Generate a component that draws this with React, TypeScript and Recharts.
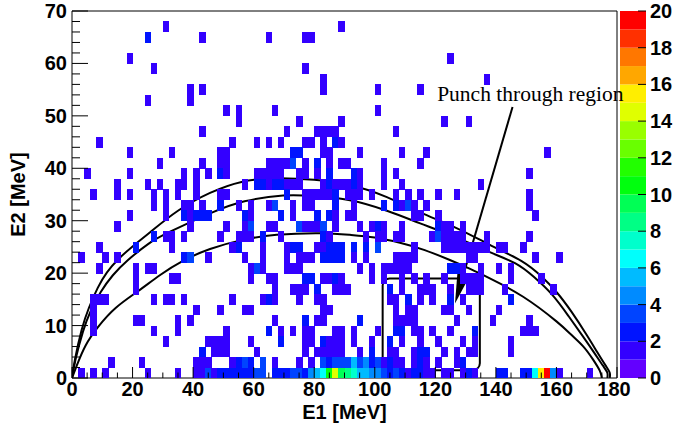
import { Bar, BarChart, ComposedChart, Label, Line, ReferenceArea, ReferenceDot, ReferenceLine, Scatter, XAxis, YAxis } from "recharts";

const W = 674;
const H = 425;
const PLOT = { left: 72, top: 11, right: 617, bottom: 378 };
const BIN = 2; // MeV, both axes
const CELL_W = (PLOT.right - PLOT.left) / 90;
const CELL_H = (PLOT.bottom - PLOT.top) / 35;

const SANS = "'Liberation Sans', Arial, sans-serif";
const SERIF = "'Liberation Serif', 'Times New Roman', serif";

// [E1 low edge, E2 low edge, counts]
const CELLS: [number, number, number][] = [
  [30,66,1],[88,66,1],
  [24,64,2],[42,64,1],[64,64,1],[76,64,1],[78,64,1],
  [18,60,1],[124,60,1],
  [26,58,1],[76,58,1],
  [82,56,1],[136,56,1],
  [38,54,1],[42,54,1],[82,54,1],[100,54,1],[114,54,1],
  [24,52,1],[38,52,1],
  [50,50,1],[54,50,1],[66,50,1],[100,50,1],
  [54,48,1],[74,48,1],[88,48,1],[122,48,1],[130,48,1],
  [42,46,1],[70,46,1],[80,46,1],[82,46,1],[84,46,1],[86,46,1],[106,46,1],
  [8,44,1],[52,44,1],[60,44,1],[64,44,1],[68,44,1],[76,44,1],[78,44,1],[82,44,1],[86,44,2],[88,44,1],
  [18,42,1],[32,42,1],[48,42,1],[50,42,1],[72,42,2],[74,42,2],[82,42,1],[84,42,1],[94,42,1],[108,42,1],[116,42,1],[156,42,1],
  [28,40,1],[42,40,1],[48,40,1],[50,40,1],[64,40,1],[66,40,1],[68,40,1],[70,40,1],[72,40,3],[76,40,1],[80,40,2],[84,40,1],[88,40,1],[90,40,1],[102,40,1],[114,40,1],
  [4,38,1],[18,38,1],[36,38,1],[40,38,1],[44,38,1],[48,38,2],[50,38,1],[60,38,1],[62,38,1],[64,38,1],[66,38,1],[68,38,1],[74,38,1],[76,38,1],[80,38,1],[84,38,2],[92,38,2],[94,38,1],[102,38,1],[106,38,1],[150,38,1],
  [14,36,1],[24,36,1],[28,36,1],[34,36,1],[36,36,1],[40,36,1],[56,36,1],[60,36,2],[62,36,2],[64,36,1],[66,36,2],[68,36,2],[70,36,1],[72,36,1],[74,36,1],[82,36,1],[84,36,2],[86,36,1],[88,36,1],[90,36,1],[92,36,2],[94,36,1],[102,36,1],[108,36,1],[134,36,1],
  [6,34,1],[14,34,1],[18,34,1],[26,34,1],[30,34,1],[34,34,1],[40,34,1],[48,34,1],[50,34,1],[70,34,2],[76,34,1],[78,34,1],[80,34,1],[82,34,1],[84,34,1],[86,34,2],[90,34,1],[92,34,1],[94,34,1],[98,34,1],[106,34,1],[110,34,1],[114,34,1],[120,34,1],[126,34,1],[150,34,1],
  [26,32,1],[30,32,1],[36,32,1],[38,32,1],[42,32,1],[48,32,2],[54,32,1],[58,32,1],[64,32,1],[66,32,3],[72,32,1],[76,32,1],[78,32,1],[86,32,2],[92,32,1],[102,32,2],[106,32,2],[108,32,1],[110,32,3],[112,32,1],[116,32,1],[150,32,1],
  [18,30,1],[30,30,1],[36,30,2],[38,30,1],[40,30,2],[42,30,2],[44,30,2],[56,30,2],[58,30,1],[68,30,2],[72,30,1],[80,30,2],[84,30,2],[86,30,1],[90,30,1],[92,30,1],[112,30,1],[114,30,1],[120,30,1],[152,30,1],
  [14,28,1],[38,28,1],[50,28,1],[56,28,1],[58,28,3],[64,28,1],[66,28,1],[74,28,3],[76,28,1],[78,28,1],[80,28,1],[82,28,3],[86,28,1],[94,28,1],[98,28,1],[100,28,2],[102,28,1],[108,28,1],[120,28,2],[122,28,1],[124,28,1],[128,28,1],
  [26,26,2],[30,26,1],[32,26,1],[36,26,1],[48,26,1],[54,26,1],[56,26,1],[58,26,1],[62,26,2],[68,26,1],[82,26,2],[84,26,1],[96,26,1],[100,26,1],[102,26,1],[106,26,1],[108,26,1],[118,26,1],[120,26,3],[122,26,1],[124,26,1],[126,26,1],[128,26,1],[136,26,1],[150,26,1],
  [8,24,1],[20,24,2],[32,24,1],[52,24,1],[54,24,2],[62,24,1],[70,24,1],[72,24,2],[74,24,2],[80,24,1],[82,24,1],[84,24,2],[86,24,2],[88,24,2],[92,24,2],[96,24,2],[100,24,3],[112,24,1],[122,24,1],[124,24,1],[126,24,1],[128,24,1],[130,24,1],[132,24,1],[134,24,1],[136,24,1],[140,24,1],[142,24,1],[148,24,1],
  [2,22,1],[10,22,1],[14,22,1],[36,22,2],[38,22,3],[44,22,1],[56,22,1],[62,22,1],[70,22,1],[74,22,1],[76,22,1],[78,22,1],[82,22,2],[84,22,2],[86,22,2],[88,22,2],[92,22,1],[96,22,1],[106,22,1],[108,22,1],[110,22,1],[112,22,1],[130,22,1],[132,22,1],[152,22,1],[160,22,1],
  [8,20,1],[20,20,1],[24,20,1],[26,20,1],[58,20,1],[60,20,3],[62,20,1],[70,20,1],[72,20,1],[74,20,1],[94,20,1],[98,20,1],[102,20,1],[104,20,1],[106,20,1],[108,20,1],[110,20,1],[124,20,2],[126,20,2],[128,20,1],[134,20,1],[140,20,1],[144,20,1],
  [20,18,1],[32,18,1],[34,18,1],[58,18,1],[64,18,1],[66,18,1],[76,18,2],[78,18,2],[82,18,1],[84,18,1],[86,18,2],[88,18,1],[98,18,1],[102,18,1],[108,18,1],[112,18,1],[116,18,1],[122,18,1],[128,18,1],[130,18,1],[132,18,1],[134,18,1],[144,18,1],[154,18,1],
  [20,16,1],[66,16,1],[72,16,1],[74,16,1],[76,16,1],[80,16,2],[86,16,1],[88,16,1],[90,16,1],[104,16,2],[108,16,1],[114,16,1],[116,16,1],[118,16,1],[124,16,1],[130,16,1],[132,16,1],[134,16,1],[142,16,1],[158,16,1],
  [6,14,1],[8,14,1],[10,14,1],[26,14,1],[30,14,1],[32,14,1],[36,14,1],[52,14,1],[62,14,1],[64,14,2],[66,14,1],[74,14,1],[80,14,1],[82,14,1],[104,14,1],[106,14,1],[110,14,2],[114,14,1],[118,14,1],[124,14,2],[128,14,1],[144,14,2],
  [6,12,1],[40,12,1],[48,12,1],[56,12,1],[58,12,1],[82,12,1],[84,12,1],[106,12,1],[110,12,1],[112,12,1],[122,12,1],[124,12,1],[130,12,1],[140,12,1],
  [6,10,1],[20,10,1],[22,10,1],[34,10,1],[38,10,1],[66,10,1],[76,10,2],[80,10,1],[82,10,1],[94,10,2],[106,10,1],[108,10,1],[110,10,1],[112,10,1],[126,10,1],[138,10,1],[150,10,1],
  [6,8,1],[26,8,1],[34,8,1],[50,8,1],[64,8,2],[68,8,1],[72,8,1],[76,8,1],[78,8,1],[86,8,1],[88,8,1],[92,8,1],[100,8,1],[106,8,2],[108,8,2],[112,8,1],[114,8,1],[118,8,1],[124,8,1],[132,8,2],[148,8,1],[150,8,1],[152,8,1],
  [30,6,1],[44,6,1],[46,6,1],[48,6,1],[50,6,1],[58,6,1],[68,6,2],[76,6,1],[78,6,1],[82,6,2],[84,6,1],[86,6,1],[88,6,1],[92,6,1],[98,6,1],[104,6,2],[108,6,1],[114,6,1],[120,6,1],[128,6,1],[132,6,1],[144,6,1],
  [42,4,2],[46,4,1],[48,4,1],[50,4,1],[60,4,1],[76,4,1],[80,4,1],[82,4,1],[84,4,1],[86,4,1],[88,4,1],[94,4,1],[98,4,2],[104,4,1],[106,4,1],[112,4,1],[114,4,2],[116,4,2],[122,4,1],[126,4,1],[130,4,1],[132,4,1],[144,4,1],
  [12,2,1],[22,2,1],[40,2,1],[42,2,1],[44,2,1],[52,2,1],[54,2,2],[56,2,3],[58,2,2],[62,2,3],[66,2,1],[74,2,1],[78,2,1],[82,2,3],[84,2,2],[86,2,3],[88,2,3],[90,2,3],[92,2,5],[94,2,3],[96,2,4],[98,2,2],[100,2,3],[102,2,1],[104,2,2],[106,2,1],[108,2,1],[112,2,1],[114,2,2],[116,2,1],[120,2,1],[126,2,1],[128,2,2],
  [2,0,1],[6,0,1],[10,0,1],[24,0,1],[34,0,1],[40,0,1],[42,0,1],[44,0,3],[46,0,1],[48,0,2],[50,0,2],[52,0,2],[54,0,2],[56,0,2],[58,0,2],[60,0,3],[62,0,3],[66,0,2],[68,0,2],[70,0,2],[72,0,3],[74,0,3],[76,0,2],[78,0,4],[80,0,5],[82,0,6],[84,0,10],[86,0,14],[88,0,9],[90,0,8],[92,0,7],[94,0,5],[96,0,5],[98,0,4],[100,0,4],[102,0,3],[104,0,2],[106,0,3],[108,0,2],[110,0,1],[112,0,2],[114,0,2],[116,0,1],[118,0,1],[122,0,1],[124,0,1],[128,0,1],[130,0,2],[132,0,1],[140,0,2],[142,0,2],[148,0,2],[150,0,2],[152,0,6],[154,0,15],[156,0,20],[158,0,4],[160,0,1],[170,0,1],
];

// kinematic limit curves [E1, E2]
const CURVE_OUTER = [[0,0],[1.0,3.6],[3.2,9.2],[5.6,13.4],[8.5,17.2],[11.5,20.1],[15.2,22.6],[20,25.1],[25.8,27.8],[35,31.9],[45.6,35.3],[56,37.4],[67.6,38.1],[80,37.8],[91.8,36.8],[104,34.5],[115,31.6],[127,28.6],[138,25.4],[148.5,22.3],[155,19.4],[160,16.4],[165,12.6],[170,8.2],[173.5,4.9],[176.2,2.4],[177.6,1.0],[177.6,0]];
const CURVE_MIDDLE = [[0,0],[1.2,3.6],[3.6,8.8],[6.2,12.8],[9.5,16.4],[13.5,19.6],[18.5,22.5],[25,25.5],[32.4,27.9],[45.6,31.4],[57,33.7],[69.7,34.8],[80,34.7],[91.8,33.9],[104,31.9],[115,29.5],[127,26.8],[138,24],[146.3,21.9],[152.5,19.3],[158.7,15.8],[164,11.8],[168.8,7.9],[172.5,4.8],[175.3,2.4],[176.8,1.0],[176.8,0]];
const CURVE_INNER = [[0,0],[1.6,2.4],[4.5,6.2],[8.7,9.8],[14.5,13.4],[21.9,16.6],[29,19.6],[36.5,22.3],[45.6,24.6],[56,26.3],[67.6,27.3],[81.9,27.6],[91.8,27.3],[100,26.8],[108.3,25.8],[116.5,24.4],[124.8,22.5],[131.5,20.8],[138,19],[149,15.5],[160,10.8],[165,8.2],[168.9,6],[172,3.6],[174.3,1.4],[175,0]];

const BOX = { e1: [102.6, 134.7], e2: [1.5, 19] };
const ARROW = [{ x: 145.5, y: 51.7 }, { x: 126.5, y: 14.2 }];
const NOTE = { e1: 120.6, e2: 52.8, text: "Punch through region" };

const X_TICKS = [0, 5, 10, 15, 20, 25, 30, 35, 40, 45, 50, 55, 60, 65, 70, 75, 80, 85, 90, 95, 100, 105, 110, 115, 120, 125, 130, 135, 140, 145, 150, 155, 160, 165, 170, 175, 180];
const Y_TICKS = [0, 2, 4, 6, 8, 10, 12, 14, 16, 18, 20, 22, 24, 26, 28, 30, 32, 34, 36, 38, 40, 42, 44, 46, 48, 50, 52, 54, 56, 58, 60, 62, 64, 66, 68, 70];
const Z_TICKS = [0, 2, 4, 6, 8, 10, 12, 14, 16, 18, 20];
const Z_BANDS = [0, 1, 2, 3, 4, 5, 6, 7, 8, 9, 10, 11, 12, 13, 14, 15, 16, 17, 18, 19];

// ROOT "pretty" palette: 50 HLS hues 280 -> 0, 20 contour levels
function hueToHex(h: number) {
  let r = 0, g = 0, b = 0;
  if (h >= 240) { r = (h - 240) / 60; b = 1; }
  else if (h >= 180) { g = (240 - h) / 60; b = 1; }
  else if (h >= 120) { g = 1; b = (h - 120) / 60; }
  else if (h >= 60) { r = (120 - h) / 60; g = 1; }
  else { r = 1; g = h / 60; }
  const c = (v: number) => Math.round(Math.min(1, Math.max(0, v)) * 255).toString(16).padStart(2, "0");
  return "#" + c(r) + c(g) + c(b);
}
function levelColor(n: number) {
  const k = Math.min(19, Math.max(0, Math.floor(n)));
  const idx = Math.floor(((k + 0.99) * 50) / 20);
  return hueToHex(280 - (idx + 1) * 5.6);
}

const cellData = CELLS.map(([e1, e2, n]) => ({ e1: e1 + BIN / 2, e2: e2 + BIN / 2, n }));
const toPts = (c: number[][]) => c.map(([e1, e2]) => ({ e1, e2 }));

const CellShape = (p: any) => (
  <rect
    x={p.cx - CELL_W / 2}
    y={p.cy - CELL_H / 2}
    width={CELL_W + 0.4}
    height={CELL_H + 0.4}
    fill={levelColor(p.payload.n)}
    shapeRendering="crispEdges"
  />
);

const XTick = ({ x, y, payload }: any) => {
  const major = payload.value % 20 === 0;
  return (
    <g>
      <line x1={x} x2={x} y1={y} y2={y - (major ? 11 : 5.5)} stroke="#000" />
      {major && (
        <text x={payload.value === 180 ? x - 3 : x} y={y + 18} textAnchor="middle" fontSize={20} fontWeight="bold" fontFamily={SANS} fill="#000">
          {payload.value}
        </text>
      )}
    </g>
  );
};

const YTick = ({ x, y, payload }: any) => {
  const major = payload.value % 10 === 0;
  return (
    <g>
      <line x1={x} x2={x + (major ? 16 : 8)} y1={y} y2={y} stroke="#000" />
      {major && (
        <text x={x - 5} y={y + 7} textAnchor="end" fontSize={20} fontWeight="bold" fontFamily={SANS} fill="#000">
          {payload.value}
        </text>
      )}
    </g>
  );
};

const ZTick = ({ x, y, payload }: any) => (
  <g>
    <line x1={x} x2={x - 8} y1={y} y2={y} stroke="#000" />
    <text x={x + 4} y={y + 7} textAnchor="start" fontSize={20} fontWeight="bold" fontFamily={SANS} fill="#000">
      {payload.value}
    </text>
  </g>
);

export default function App() {
  const zRow: Record<string, number | string> = { name: "z" };
  Z_BANDS.forEach((k) => (zRow["b" + k] = 1));

  return (
    <div style={{ position: "fixed", left: 0, top: 0, width: W, height: H, background: "#fff" }}>
      <div style={{ position: "absolute", left: 620, top: 0 }}>
        <BarChart width={54} height={H} data={[zRow]} margin={{ top: PLOT.top, right: 0, bottom: H - PLOT.bottom, left: 0 }} barCategoryGap={0} barGap={0}>
          <XAxis dataKey="name" hide />
          <YAxis
            orientation="right"
            type="number"
            domain={[0, 20]}
            ticks={Z_TICKS}
            width={28}
            tickSize={0}
            tickMargin={0}
            axisLine={false}
            tickLine={false}
            tick={<ZTick />}
            interval={0}
          />
          {Z_BANDS.map((k) => (
            <Bar key={k} dataKey={"b" + k} stackId="z" fill={levelColor(k)} isAnimationActive={false} />
          ))}
        </BarChart>
      </div>
      <div style={{ position: "absolute", left: 0, top: 0 }}>
        <ComposedChart width={W} height={H} margin={{ top: PLOT.top, right: W - PLOT.right, bottom: 0, left: 0 }}>
          <XAxis
            type="number"
            dataKey="e1"
            domain={[0, 180]}
            ticks={X_TICKS}
            interval={0}
            height={H - PLOT.bottom}
            tickSize={0}
            tickMargin={0}
            axisLine={false}
            tickLine={false}
            tick={<XTick />}
            allowDataOverflow
          >
            <Label value="E1 [MeV]" position="insideBottom" offset={6} style={{ fontSize: 20, fontWeight: "bold", fontFamily: SANS, fill: "#000" }} />
          </XAxis>
          <YAxis
            type="number"
            dataKey="e2"
            domain={[0, 70]}
            ticks={Y_TICKS}
            interval={0}
            width={PLOT.left}
            tickSize={0}
            tickMargin={0}
            axisLine={false}
            tickLine={false}
            tick={<YTick />}
            allowDataOverflow
          >
            <Label value="E2 [MeV]" angle={-90} position="insideLeft" offset={18} style={{ textAnchor: "middle", fontSize: 20, fontWeight: "bold", fontFamily: SANS, fill: "#000" }} />
          </YAxis>
          <Scatter data={cellData} dataKey="e2" shape={CellShape} isAnimationActive={false} />
          <ReferenceArea x1={0} x2={180} y1={0} y2={70} fill="none" stroke="#000" strokeWidth={1} fillOpacity={0} />
          {[CURVE_OUTER, CURVE_MIDDLE, CURVE_INNER].map((c, i) => (
            <Line
              key={i}
              data={toPts(c)}
              dataKey="e2"
              type="natural"
              stroke="#000"
              strokeWidth={2}
              dot={false}
              activeDot={false}
              isAnimationActive={false}
            />
          ))}
          <ReferenceArea
            x1={BOX.e1[0]}
            x2={BOX.e1[1]}
            y1={BOX.e2[0]}
            y2={BOX.e2[1]}
            shape={(p: any) => (
              <rect x={p.x} y={p.y} width={p.width} height={p.height} rx={7} ry={7} fill="none" stroke="#000" strokeWidth={2} />
            )}
          />
          <ReferenceLine
            segment={ARROW}
            shape={(p: any) => {
              const dx = p.x2 - p.x1;
              const dy = p.y2 - p.y1;
              const len = Math.hypot(dx, dy);
              const ux = dx / len, uy = dy / len;
              const hl = 31, hw = 6.5;
              const bx = p.x2 - ux * hl, by = p.y2 - uy * hl;
              return (
                <g>
                  <line x1={p.x1} y1={p.y1} x2={bx} y2={by} stroke="#000" strokeWidth={2} />
                  <polygon
                    points={`${p.x2},${p.y2} ${bx - uy * hw},${by + ux * hw} ${bx + uy * hw},${by - ux * hw}`}
                    fill="#000"
                  />
                </g>
              );
            }}
          />
          <ReferenceDot
            x={NOTE.e1}
            y={NOTE.e2}
            r={0}
            shape={(p: any) => (
              <text x={p.cx} y={p.cy} fontSize={21.5} fontFamily={SERIF} fill="#000">
                {NOTE.text}
              </text>
            )}
          />
        </ComposedChart>
      </div>
    </div>
  );
}
